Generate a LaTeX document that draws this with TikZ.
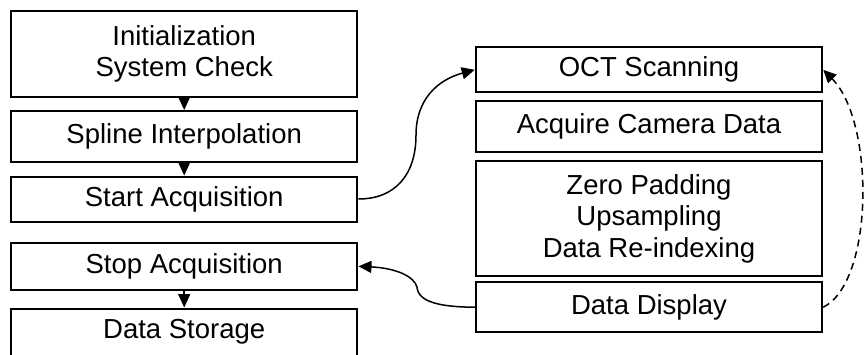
\documentclass[tikz,border=0pt]{standalone}
\usepackage{fontspec}
\setmainfont{Liberation Sans}
\usetikzlibrary{arrows.meta}
\tikzset{
  box/.style={draw=black, line width=2pt, minimum width=346.5pt, inner sep=0pt,
    align=center, font=\fontsize{27.5}{31.5}\selectfont},
  flowarrow/.style={line width=1.5pt, -{Triangle[length=13.5pt,width=12pt]}},
  curvearrow/.style={line width=1.5pt, -{Triangle[length=13pt,width=12pt]}},
  loopback/.style={line width=1.5pt, dash pattern=on 7pt off 5pt, -{Triangle[length=13pt,width=12pt]}}
}
\begin{document}
\begin{tikzpicture}[x=1pt,y=-1pt]
\useasboundingbox (0,0) rectangle (865,354);
% left column
\node[box, minimum height=85.5pt] (init) at (184.2,53.8) {Initialization\\System Check};
\node[box, minimum height=50.5pt] (spline) at (184.2,136.3) {Spline Interpolation};
\node[box, minimum height=45pt] (start) at (184.2,199) {Start Acquisition};
\node[box, minimum height=47.5pt] (stop) at (184.2,266.3) {Stop Acquisition};
\node[box, minimum height=47pt] (store) at (184.2,332) {Data Storage};
% right column
\node[box, minimum height=45pt] (oct) at (649,69.8) {OCT Scanning};
\node[box, minimum height=51.3pt] (cam) at (649,126.7) {Acquire Camera Data};
\node[box, minimum height=115.3pt] (zero) at (649,218.4) {Zero Padding\\Upsampling\\Data Re-indexing};
\node[box, minimum height=49.7pt] (disp) at (649,307.2) {Data Display};
% straight arrows
\draw[flowarrow] (init.south) -- (spline.north);
\draw[flowarrow] (spline.south) -- (start.north);
\draw[flowarrow] (stop.south) -- (store.north);
% curved connectors
\draw[curvearrow] (start.east) .. controls (395,199) and (416,175) .. (416,135)
  .. controls (416,100) and (437,80) .. (oct.west);
\draw[curvearrow] (disp.west) .. controls (440,307) and (418,302) .. (417,287)
  .. controls (414,276) and (395,268) .. (stop.east);
\draw[loopback] (disp.east) .. controls (874,282) and (875,122) .. (oct.east);
\end{tikzpicture}
\end{document}
